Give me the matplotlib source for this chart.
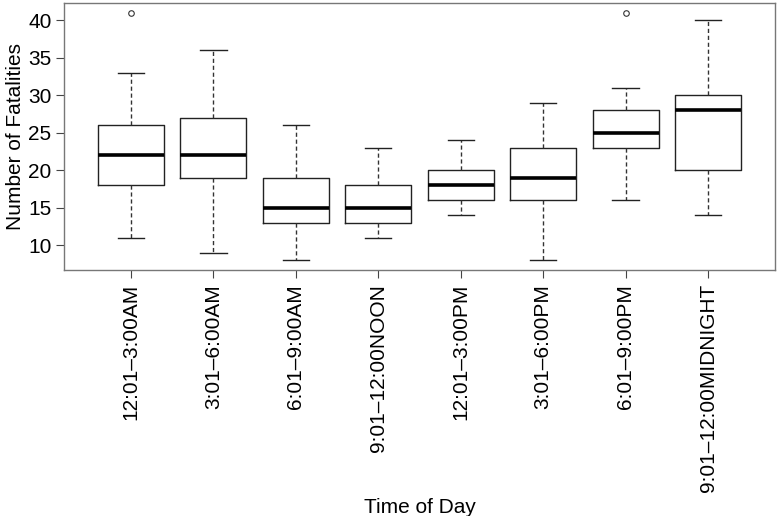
import matplotlib
matplotlib.use('Agg')
import matplotlib.pyplot as plt

plt.rcParams['font.family'] = ['Liberation Sans', 'DejaVu Sans']

labels = ['12:01\u20133:00AM', '3:01\u20136:00AM', '6:01\u20139:00AM', '9:01\u201312:00NOON',
          '12:01\u20133:00PM', '3:01\u20136:00PM', '6:01\u20139:00PM', '9:01\u201312:00MIDNIGHT']
whislo = [11, 9, 8, 11, 14, 8, 16, 14]
q1 = [18, 19, 13, 13, 16, 16, 23, 20]
med = [22, 22, 15, 15, 18, 19, 25, 28]
q3 = [26, 27, 19, 18, 20, 23, 28, 30]
whishi = [33, 36, 26, 23, 24, 29, 31, 40]
fliers = [[41], [], [], [], [], [], [41], []]

stats = [dict(label=l, whislo=a, q1=b, med=c, q3=d, whishi=e, fliers=f)
         for l, a, b, c, d, e, f in zip(labels, whislo, q1, med, q3, whishi, fliers)]

fig = plt.figure(figsize=(7.77, 5.16), dpi=100)
ax = fig.add_axes([0.0824, 0.4767, 0.915, 0.5175])

ax.bxp(stats, positions=range(1, 9), widths=0.8, showfliers=True,
       boxprops=dict(color='#222222', linewidth=1.0),
       whiskerprops=dict(color='#333333', linewidth=1.0, linestyle=(0, (3, 2))),
       capprops=dict(color='#222222', linewidth=1.0),
       medianprops=dict(color='black', linewidth=2.6),
       flierprops=dict(marker='o', markersize=4, markerfacecolor='none',
                       markeredgecolor='#333333', markeredgewidth=0.8),
       capwidths=0.32)

ax.set_xlim(0.19, 8.81)
ax.set_ylim(6.67, 42.3)
ax.set_yticks([10, 15, 20, 25, 30, 35, 40])
ax.set_xticks(range(1, 9))
ax.set_xticklabels(labels, rotation=90, fontsize=15)
ax.tick_params(axis='y', labelsize=15, length=6, color='#444444', pad=3)
ax.tick_params(axis='x', length=6, color='#444444', pad=4)
for s in ax.spines.values():
    s.set_color('#777777')
    s.set_linewidth(1.0)

ax.set_ylabel('Number of Fatalities', fontsize=15, labelpad=2)
ax.set_xlabel('Time of Day', fontsize=15, labelpad=4)

fig.savefig('out.png', dpi=100)
